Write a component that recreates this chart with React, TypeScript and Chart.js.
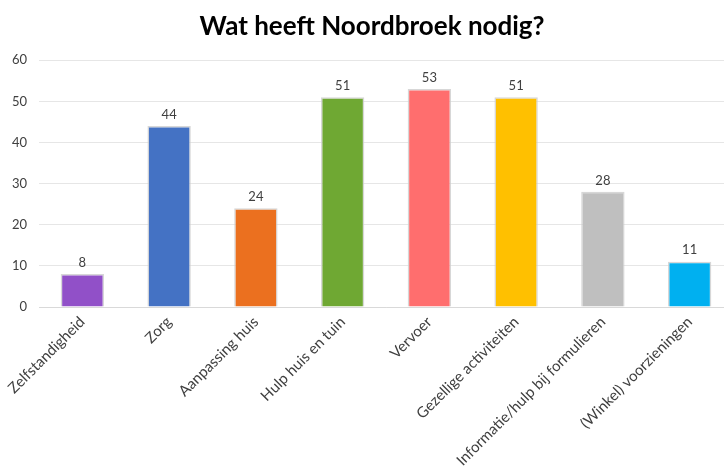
import React, { useEffect, useRef } from "react";
import { Chart, registerables } from "chart.js";

Chart.register(...registerables);

const categories = [
  "Zelfstandigheid",
  "Zorg",
  "Aanpassing huis",
  "Hulp huis en tuin",
  "Vervoer",
  "Gezellige activiteiten",
  "Informatie/hulp bij formulieren",
  "(Winkel) voorzieningen",
];
const values = [8, 44, 24, 51, 53, 51, 28, 11];
const barColors = [
  "#9150C8",
  "#4472C4",
  "#EB701F",
  "#6FA833",
  "#FF6E6E",
  "#FFC000",
  "#BFBFBF",
  "#00B0F0",
];
const titleText = "Wat heeft Noordbroek nodig?";
const yMin = 0;
const yMax = 60;
const yStep = 10;

const W = 744;
const H = 468;
const FONT = "Lato, 'Open Sans', sans-serif";

const valueLabels = {
  id: "valueLabels",
  afterDatasetsDraw(chart: any) {
    const ctx = chart.ctx;
    const meta = chart.getDatasetMeta(0);
    ctx.save();
    ctx.font = `13px ${FONT}`;
    ctx.fillStyle = "#404040";
    ctx.textAlign = "center";
    ctx.textBaseline = "bottom";
    meta.data.forEach((el: any, i: number) => {
      ctx.fillText(String(chart.data.datasets[0].data[i]), el.x, el.y - 5);
    });
    ctx.restore();
  },
};

export default function App() {
  const ref = useRef<HTMLCanvasElement>(null);
  useEffect(() => {
    document.body.style.overflow = "hidden";
    const chart = new Chart(ref.current!, {
      type: "bar",
      data: {
        labels: categories,
        datasets: [
          {
            data: values,
            backgroundColor: barColors,
            borderColor: "rgba(205,205,205,0.8)",
            borderWidth: 1.5,
            barPercentage: 0.5,
            categoryPercentage: 1,
          },
        ],
      },
      options: {
        responsive: false,
        animation: false,
        layout: { padding: { left: 11, right: 11, top: 0, bottom: 0 } },
        plugins: {
          legend: { display: false },
          tooltip: { enabled: false },
          title: {
            display: true,
            text: titleText,
            color: "#000000",
            font: { family: FONT, size: 26, weight: "bold" },
            padding: { top: 11, bottom: 18 },
          },
        },
        scales: {
          x: {
            grid: { display: false, drawTicks: false },
            border: { color: "#D9D9D9" },
            ticks: {
              autoSkip: false,
              minRotation: 45,
              maxRotation: 45,
              color: "#404040",
              font: { family: FONT, size: 15 },
              padding: 6,
            },
            afterFit(scale: any) {
              scale.height = 161;
            },
          },
          y: {
            min: yMin,
            max: yMax,
            ticks: {
              stepSize: yStep,
              color: "#404040",
              font: { family: FONT, size: 13 },
              padding: 12,
            },
            grid: { color: "#E6E6E6", drawTicks: false },
            border: { display: false },
            afterFit(scale: any) {
              scale.width = 28;
            },
          },
        },
      },
      plugins: [valueLabels],
    });
    return () => chart.destroy();
  }, []);
  return (
    <div style={{ position: "fixed", left: 0, top: 0, width: W, height: H, background: "#fff" }}>
      <canvas ref={ref} width={W} height={H} />
    </div>
  );
}
